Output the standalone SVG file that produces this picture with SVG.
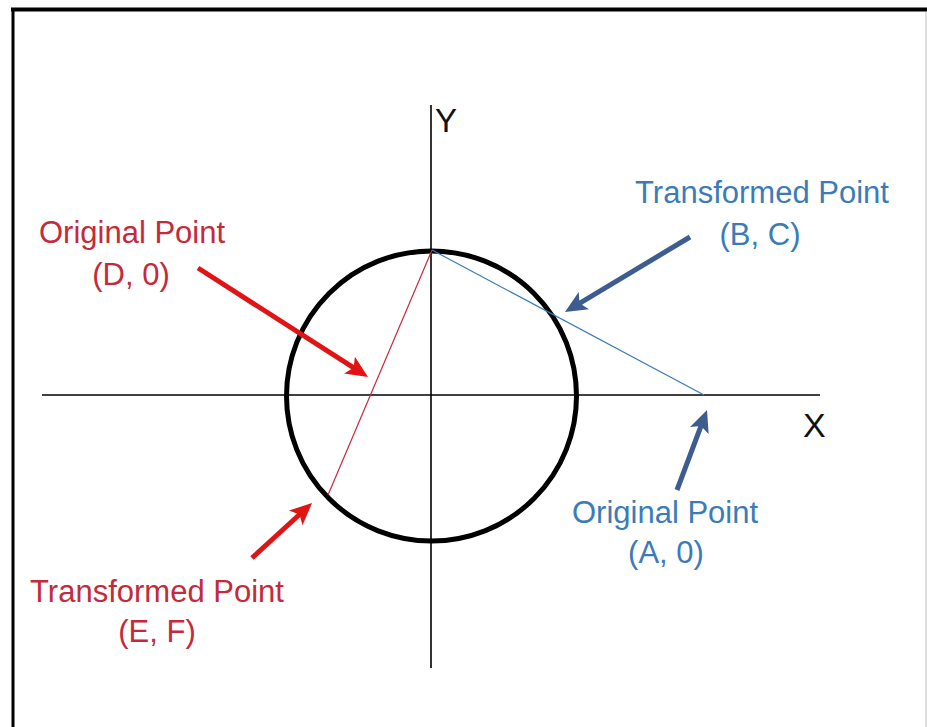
<svg xmlns="http://www.w3.org/2000/svg" width="927" height="727" viewBox="0 0 927 727">
  <style>
    .lbl { font-family: "Liberation Sans", Arial, sans-serif; font-size: 31px; text-anchor: middle; }
    .red { fill: #c42a3a; }
    .blue { fill: #3b7cb8; }
    .axislbl { font-family: "Liberation Sans", Arial, sans-serif; font-size: 34px; fill: #111; }
    .axis { stroke: #000; stroke-width: 1.6; fill: none; }
    .arrRed { stroke: #e01414; stroke-width: 5; fill: none; marker-end: url(#headRed); }
    .arrBlue { stroke: #3d5c8f; stroke-width: 5; fill: none; marker-end: url(#headBlue); }
  </style>
  <defs>
    <marker id="headRed" markerUnits="userSpaceOnUse" markerWidth="22" markerHeight="20" viewBox="0 0 22 20" refX="8" refY="10" orient="auto">
      <path d="M0,0 L22,10 L0,20 L5,10 z" fill="#e01414"/>
    </marker>
    <marker id="headBlue" markerUnits="userSpaceOnUse" markerWidth="22" markerHeight="20" viewBox="0 0 22 20" refX="8" refY="10" orient="auto">
      <path d="M0,0 L22,10 L0,20 L5,10 z" fill="#3d5c8f"/>
    </marker>
  </defs>
  <rect x="0" y="0" width="927" height="727" fill="#ffffff"/>
  <!-- frame -->
  <g id="frame">
    <line x1="11" y1="9.5" x2="927" y2="9.5" stroke="#000" stroke-width="4"/>
    <line x1="13" y1="8" x2="13" y2="727" stroke="#000" stroke-width="3"/>
    <line x1="926" y1="12" x2="926" y2="727" stroke="#bbb" stroke-width="1"/>
  </g>
  <!-- axes -->
  <g id="axes">
    <line class="axis" x1="42" y1="395" x2="820" y2="395"/>
    <line class="axis" x1="431" y1="105" x2="431" y2="668"/>
    <text id="x-label" class="axislbl" x="803" y="437">X</text>
    <text id="y-label" class="axislbl" x="435" y="132" style="font-size:33px">Y</text>
  </g>
  <g id="circle">
    <circle cx="431.5" cy="396" r="145" fill="none" stroke="#000" stroke-width="5"/>
  </g>
  <g id="chords">
    <line x1="432" y1="250" x2="328" y2="495" stroke="#c8283a" stroke-width="1.2"/>
    <line x1="432" y1="250" x2="704" y2="395" stroke="#3b7cb8" stroke-width="1.2"/>
  </g>
  <g id="connectors">
    <line class="arrRed" x1="198" y1="268" x2="356.2" y2="369.4"/>
    <line class="arrRed" x1="252" y1="558" x2="301.7" y2="512.5"/>
    <line class="arrBlue" x1="690" y1="237" x2="577" y2="304.8"/>
    <line class="arrBlue" x1="677" y1="490" x2="702.1" y2="423.1"/>
  </g>
  <g id="node-original-d">
    <text class="lbl red" x="132" y="243">Original Point</text>
    <text class="lbl red" x="131" y="285">(D, 0)</text>
  </g>
  <g id="node-transformed-ef">
    <text class="lbl red" x="157" y="602">Transformed Point</text>
    <text class="lbl red" x="157" y="642">(E, F)</text>
  </g>
  <g id="node-transformed-bc">
    <text class="lbl blue" x="762" y="203">Transformed Point</text>
    <text class="lbl blue" x="760" y="245">(B, C)</text>
  </g>
  <g id="node-original-a">
    <text class="lbl blue" x="665" y="523">Original Point</text>
    <text class="lbl blue" x="666" y="563">(A, 0)</text>
  </g>
</svg>
